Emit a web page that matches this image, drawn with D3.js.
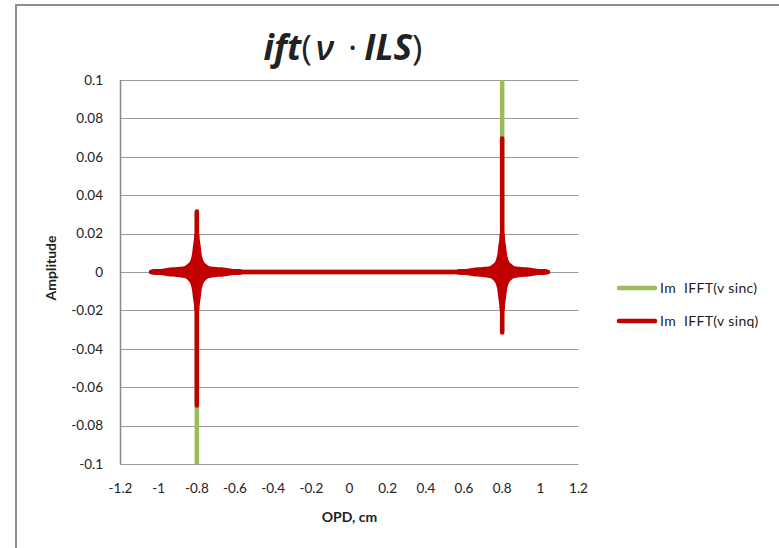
<!DOCTYPE html>
<html>
<head>
<meta charset="utf-8">
<script src="https://cdn.jsdelivr.net/npm/d3@7"></script>
<style>
  html, body { margin: 0; padding: 0; background: #fff; }
  svg { display: block; }
  text { font-family: Lato, "Open Sans", sans-serif; fill: #222; }
</style>
</head>
<body>
<svg id="chart" width="779" height="548"></svg>
<script>
// ---------- data ----------
const xTickValues = [-1.2, -1, -0.8, -0.6, -0.4, -0.2, 0, 0.2, 0.4, 0.6, 0.8, 1, 1.2];
const yTickValues = [0.1, 0.08, 0.06, 0.04, 0.02, 0, -0.02, -0.04, -0.06, -0.08, -0.1];
const seriesNames = ["Im  IFFT(v sinc)", "Im  IFFT(v sinq)"];
const seriesColors = ["#9BBB59", "#C00000"];

// polyline vertices of each series (OPD in cm, amplitude)
const opd      = [-1.04, -0.8, -0.8,   -0.8,   -0.8, 0.8, 0.8,    0.8,    0.8, 1.04];
const sincAmp  = [0,      0,    0.031, -0.125,  0,   0,   0.125, -0.031,  0,   0];
const sinqAmp  = [0,      0,    0.0315,-0.0695, 0,   0,   0.0695,-0.0315, 0,   0];

// ringing envelope around each spike of the sinq series
const spikeCenters = [-0.8, 0.8];
const hArmDx   = [0.04, 0.06, 0.09, 0.14, 0.19, 0.24];        // OPD offset along the baseline
const hArmHalf = [0.0049, 0.0033, 0.0027, 0.0023, 0.0016, 0.0011]; // amplitude half-thickness
const vArmDy   = [0.004, 0.006, 0.009, 0.013, 0.017, 0.02];   // amplitude offset along spike
const vArmHalf = [0.046, 0.034, 0.026, 0.021, 0.015, 0.011];  // OPD half-width

// ---------- layout ----------
const svg = d3.select("#chart");
const x = d3.scaleLinear().domain([-1.2, 1.2]).range([120.5, 578.5]);
const y = d3.scaleLinear().domain([-0.1, 0.1]).range([464, 80]);

// chart-area border (top & left visible)
svg.append("rect")
  .attr("x", 16).attr("y", 5).attr("width", 900).attr("height", 700)
  .attr("fill", "none").attr("stroke", "#8e8e8e").attr("stroke-width", 2);

// gridlines
svg.append("g").selectAll("line").data(yTickValues).join("line")
  .attr("x1", x(-1.2)).attr("x2", x(1.2))
  .attr("y1", d => Math.round(y(d)) + 0.5).attr("y2", d => Math.round(y(d)) + 0.5)
  .attr("stroke", "#9a9a9a").attr("stroke-width", 1);

// y axis line
svg.append("line")
  .attr("x1", x(-1.2)).attr("x2", x(-1.2))
  .attr("y1", y(0.1)).attr("y2", y(-0.1) + 0.5)
  .attr("stroke", "#8a8a8a").attr("stroke-width", 1.5);

// y tick labels
svg.append("g").selectAll("text").data(yTickValues).join("text")
  .attr("x", 103).attr("y", d => y(d))
  .attr("dy", "0.35em").attr("text-anchor", "end")
  .style("font-size", "13.5px")
  .text(d => d3.format("~g")(d).replace("−", "-"));

// x tick labels
svg.append("g").selectAll("text").data(xTickValues).join("text")
  .attr("x", d => x(d)).attr("y", 488)
  .attr("dy", "0.35em").attr("text-anchor", "middle")
  .style("font-size", "13.5px")
  .text(d => d3.format("~g")(d).replace("−", "-"));

// axis titles
svg.append("text")
  .attr("x", x(0)).attr("y", 522).attr("text-anchor", "middle")
  .style("font-size", "14px").style("font-weight", "bold")
  .text("OPD, cm");
svg.append("text")
  .attr("transform", `translate(56,${y(0) - 4}) rotate(-90)`)
  .attr("text-anchor", "middle")
  .style("font-size", "14px").style("font-weight", "bold")
  .text("Amplitude");

// title
const title = svg.append("text")
  .attr("x", 343).attr("y", 60).attr("text-anchor", "middle")
  .style("font-size", "35px")
  .style("font-family", "'Open Sans', Lato, sans-serif");
title.append("tspan").style("font-weight", "bold").style("font-style", "italic").text("ift");
title.append("tspan").text("(");
title.append("tspan").attr("dx", 4).style("font-style", "italic").style("font-weight", "600").text("\u03BD");
title.append("tspan").attr("dx", 14).text("\u00B7");
title.append("tspan").attr("dx", 7).style("font-weight", "bold").style("font-style", "italic").text("ILS");
title.append("tspan").text(")");

// clip to plot area
svg.append("clipPath").attr("id", "plotClip")
  .append("rect").attr("x", x(-1.2)).attr("y", y(0.1))
  .attr("width", x(1.2) - x(-1.2)).attr("height", y(-0.1) - y(0.1));

const plot = svg.append("g").attr("clip-path", "url(#plotClip)");
const line = d3.line().x(d => x(d[0])).y(d => y(d[1]));

const series = [
  opd.map((o, i) => [o, sincAmp[i]]),
  opd.map((o, i) => [o, sinqAmp[i]])
];

series.forEach((pts, i) => {
  plot.append("path")
    .attr("d", line(pts))
    .attr("fill", "none")
    .attr("stroke", seriesColors[i])
    .attr("stroke-width", 4.5)
    .attr("stroke-linecap", "round")
    .attr("stroke-linejoin", "round");
});

// ringing envelope (star) around each spike of sinq
const n = hArmDx.length;
spikeCenters.forEach(c => {
  const pts = [];
  [[1, 1], [1, -1], [-1, -1], [-1, 1]].forEach(([sx, sy], q) => {
    const vert = d3.range(n).map(k => [c + sx * vArmHalf[k], sy * vArmDy[k]]);
    const hor = d3.range(n).map(k => [c + sx * hArmDx[k], sy * hArmHalf[k]]);
    if (q % 2 === 0) pts.push(...vert.slice().reverse(), ...hor);
    else pts.push(...hor.slice().reverse(), ...vert);
  });
  plot.append("path")
    .attr("d", d3.line().x(d => x(d[0])).y(d => y(d[1])).curve(d3.curveCatmullRomClosed)(pts))
    .attr("fill", seriesColors[1]);
});

// legend
const legendY = [288, 321];
seriesNames.forEach((name, i) => {
  svg.append("line")
    .attr("x1", 619).attr("x2", 655)
    .attr("y1", legendY[i]).attr("y2", legendY[i])
    .attr("stroke", seriesColors[i]).attr("stroke-width", 4.5)
    .attr("stroke-linecap", "round");
  svg.append("text")
    .attr("x", 660).attr("y", legendY[i]).attr("dy", "0.35em")
    .style("font-size", "14px").style("letter-spacing", "0.35px")
    .style("white-space", "pre")
    .text(name);
});
</script>
</body>
</html>
